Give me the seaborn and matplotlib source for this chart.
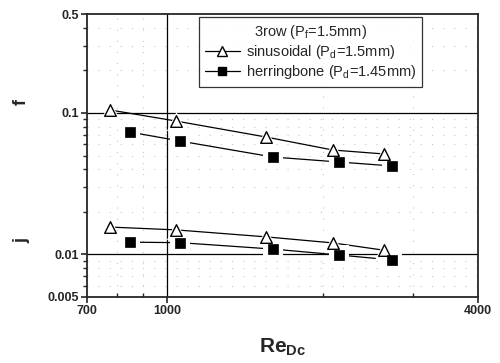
import matplotlib
matplotlib.use("Agg")
import matplotlib.pyplot as plt
from matplotlib.lines import Line2D
from matplotlib.ticker import FixedLocator, NullFormatter
import seaborn as sns
import numpy as np
import pandas as pd

re_sin = [776, 1041, 1555, 2095, 2631]
re_her = [848, 1060, 1604, 2153, 2727]
f_sin = [0.105, 0.0877, 0.0676, 0.0547, 0.0513]
f_her = [0.0733, 0.0633, 0.0488, 0.0450, 0.0422]
j_sin = [0.0156, 0.0149, 0.0133, 0.01205, 0.0107]
j_her = [0.0122, 0.0121, 0.0109, 0.0099, 0.00913]

rows = []
for name, re_, f_, j_ in [("sin", re_sin, f_sin, j_sin), ("her", re_her, f_her, j_her)]:
    for r, a in zip(re_, f_):
        rows.append({"series": name, "curve": name + "_f", "Re": r, "val": a})
    for r, a in zip(re_, j_):
        rows.append({"series": name, "curve": name + "_j", "Re": r, "val": a})
df = pd.DataFrame(rows)

sns.set_style("ticks")
plt.rcParams['font.family'] = ['Liberation Sans', 'DejaVu Sans']
plt.rcParams['mathtext.fontset'] = 'custom'
plt.rcParams['mathtext.rm'] = 'Liberation Sans'
plt.rcParams['mathtext.bf'] = 'Liberation Sans:bold'

fig = plt.figure(figsize=(5, 3.63), dpi=100)
ax = fig.add_axes([0.174, 0.182, 0.782, 0.779])
ax.set_xscale("log")
ax.set_yscale("log")

# lines first
sns.lineplot(data=df, x="Re", y="val", units="curve", estimator=None,
             color="black", lw=0.9, ax=ax, legend=False, zorder=2)

# white halos make the small gaps between line and marker
for name, mk in [("sin", "^"), ("her", "s")]:
    d = df[df.series == name]
    ax.scatter(d.Re, d.val, marker=mk, s=190, color="white", zorder=3, lw=0)
sns.scatterplot(data=df[df.series == "sin"], x="Re", y="val", marker="^", s=70,
                facecolor="white", edgecolor="black", linewidth=1.0, ax=ax,
                legend=False, zorder=4)
sns.scatterplot(data=df[df.series == "her"], x="Re", y="val", marker="s", s=48,
                color="black", edgecolor="black", linewidth=0.5, ax=ax,
                legend=False, zorder=4)

ax.set_xlim(700, 4000)
ax.set_ylim(0.005, 0.5)

ax.xaxis.set_major_locator(FixedLocator([700, 1000, 4000]))
ax.xaxis.set_minor_locator(FixedLocator([800, 900, 2000, 3000]))
ax.set_xticklabels(["700", "1000", "4000"])
ax.xaxis.set_minor_formatter(NullFormatter())
ax.yaxis.set_major_locator(FixedLocator([0.005, 0.01, 0.1, 0.5]))
ax.set_yticklabels(["0.005", "0.01", "0.1", "0.5"])
ax.yaxis.set_minor_locator(FixedLocator([0.006, 0.007, 0.008, 0.009, 0.02, 0.03, 0.04,
                                         0.05, 0.06, 0.07, 0.08, 0.09, 0.2, 0.3, 0.4]))
ax.yaxis.set_minor_formatter(NullFormatter())

for lab in ax.get_xticklabels() + ax.get_yticklabels():
    lab.set_fontweight("bold")
    lab.set_fontsize(9)
ax.tick_params(which="major", direction="out", length=4, width=1.2, pad=2)
ax.tick_params(axis="y", which="minor", direction="out", length=3, width=1.0)
ax.tick_params(axis="x", which="minor", direction="in", length=3, width=1.0)

# major grid lines
ax.axhline(0.1, color="black", lw=0.9, zorder=1)
ax.axhline(0.01, color="black", lw=0.9, zorder=1)
ax.axvline(1000, color="black", lw=0.9, zorder=1)
ax.grid(which="minor", color="#c8c8c8", ls=(0, (1, 9)), lw=0.8)

for sp in ax.spines.values():
    sp.set_linewidth(1.3)

ax.set_xlabel("Re$_{\\mathbf{Dc}}$", fontsize=15, fontweight="bold", labelpad=14)
ax.set_ylabel("")
fig.text(0.043, 0.72, "f", rotation=90, fontsize=13, fontweight="bold", ha="center", va="center")
fig.text(0.043, 0.338, "j", rotation=90, fontsize=13, fontweight="bold", ha="center", va="center")

handles = [
    Line2D([], [], color="black", lw=0.9, marker="^", mfc="white", mec="black", ms=7),
    Line2D([], [], color="black", lw=0.9, marker="s", mfc="black", mec="black", ms=6),
]
labels = ["sinusoidal (P$_\\mathrm{d}$=1.5mm)", "herringbone (P$_\\mathrm{d}$=1.45mm)"]
leg = ax.legend(handles, labels, loc="upper right", bbox_to_anchor=(0.86, 0.995),
                borderaxespad=0.1, title="3row (P$_\\mathrm{f}$=1.5mm)", title_fontsize=10.5,
                fontsize=10.5, frameon=True, fancybox=False, edgecolor="black",
                handlelength=2.4, handletextpad=0.4, borderpad=0.4, labelspacing=0.15)
leg.get_frame().set_linewidth(0.9)

fig.savefig("out.png", dpi=100)
